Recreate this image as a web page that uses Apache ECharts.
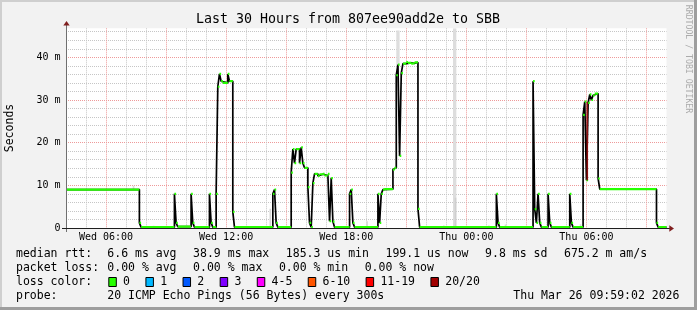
<!DOCTYPE html>
<html><head><meta charset="utf-8">
<script src="https://cdn.jsdelivr.net/npm/echarts@6/dist/echarts.min.js"></script>
<style>html,body{margin:0;padding:0;background:#f2f2f2;}#c{width:697px;height:310px;}</style>
</head><body><div id="c"></div>
<script>
// ---- DATA (time in minutes after Wed 04:00, window = 30 h) ----
const windowEndMin = 1800;
const stepStartMin = [
  0, 220, 225,
  325, 330, 335,
  375, 380, 385,
  430, 435, 440,
  450, 455, 460, 465, 470, 485, 490, 500, 505,
  620, 625, 630, 635,
  675, 680, 685, 690, 700, 705, 710, 715, 725, 730, 735,
  740, 745, 755, 760, 770, 775, 785, 790, 795, 800, 805,
  850, 855, 860, 865,
  935, 940, 945, 950, 955, 980, 985, 990, 995, 1000, 1005, 1010, 1020, 1025, 1035, 1040, 1045, 1055, 1060,
  1290, 1295, 1300,
  1400, 1405, 1410, 1415, 1420, 1425,
  1445, 1450, 1455,
  1510, 1515, 1520,
  1550, 1555, 1560, 1565, 1570, 1575, 1580, 1585, 1595, 1600, 1770, 1775
];
const medianRttMs = [
  9.0, 1.2, 0.2,
  8.0, 1.2, 0.3,
  8.0, 1.2, 0.2,
  8.0, 1.2, 0.2,
  8.0, 33.1, 36.1, 34.4, 34.0, 36.1, 34.4, 3.8, 0.2,
  8.0, 9.0, 1.2, 0.2,
  13.0, 18.5, 15.2, 18.5, 15.2, 18.9, 15.2, 14.1, 9.6, 1.2, 0.2,
  10.5, 12.7, 12.2, 12.6, 12.7, 12.3, 12.7, 1.6, 11.7, 1.5, 0.2,
  8.0, 9.0, 1.2, 0.2,
  8.0, 1.2, 8.0, 9.0, 9.1, 13.7, 14.1, 35.8, 38.3, 16.9, 36.3, 38.5, 38.9, 38.7, 38.5, 38.6, 38.8, 4.5, 0.2,
  8.0, 1.2, 0.2,
  34.4, 4.4, 1.2, 8.0, 1.2, 0.2,
  8.0, 1.2, 0.2,
  8.0, 1.2, 0.2,
  26.5, 29.6, 11.2, 29.3, 31.3, 30.0, 31.1, 31.5, 11.6, 9.1, 1.2, 0.2
];
// smoke (ping spread)
const smokeStartMin = [200, 260, 610, 900, 990, 1100, 1130, 1160, 1165, 1265, 1315, 1540];
const smokeEndMin   = [205, 265, 615, 905, 1000, 1105, 1135, 1170, 1170, 1270, 1320, 1545];
const smokeLowMs    = [9.0, 0, 0, 0, 38.0, 0, 0, 0, 0, 0, 0, 0];
const smokeHighMs   = [9.9, 0.5, 4.5, 1.6, 46.3, 0.4, 0.6, 46.8, 7.1, 0.6, 0.8, 0.9];
const smokeShade    = ['#dadada','#dadada','#d6d6d6','#dadada','#dedede','#dadada','#dadada','#dddddd','#cfcfcf','#dadada','#dadada','#dadada'];
// 20/20 loss marker
const loss20Min = [1562.5];
const loss20LowMs = [11.2];
const loss20HighMs = [29.6];
// axis labels
const xLabelMin = [120, 480, 840, 1200, 1560];
const xLabelText = ['Wed 06:00', 'Wed 12:00', 'Wed 18:00', 'Thu 00:00', 'Thu 06:00'];
const yLabelMs = [0, 10, 20, 30, 40];
const yLabelText = ['0', '10 m', '20 m', '30 m', '40 m'];
// legend
const lossBuckets = ['0', '1', '2', '3', '4-5', '6-10', '11-19', '20/20'];
const lossColors = ['#26ff00', '#00b8ff', '#0059ff', '#7e00ff', '#ff00ff', '#ff5500', '#ff0000', '#a10000'];
const rttStats = ['6.6 ms avg', '38.9 ms max', '185.3 us min', '199.1 us now', '9.8 ms sd', '675.2 m am/s'];
const lossStats = ['0.00 % avg', '0.00 % max', '0.00 % min', '0.00 % now'];
const probeText = '20 ICMP Echo Pings (56 Bytes) every 300s';
const stampText = 'Thu Mar 26 09:59:02 2026';
const titleText = 'Last 30 Hours from 807ee90add2e to SBB';

// ---- build series data ----
const stepLine = [];
const greenSegs = [];
for (let i = 0; i < stepStartMin.length; i++) {
  const s = stepStartMin[i];
  const e = i + 1 < stepStartMin.length ? stepStartMin[i + 1] : windowEndMin;
  stepLine.push([s, medianRttMs[i]]);
  greenSegs.push([s, medianRttMs[i]], [e, medianRttMs[i]], [e, '-']);
}
stepLine.push([windowEndMin, medianRttMs[medianRttMs.length - 1]]);
const smokeData = smokeStartMin.map((s, i) => [s, smokeEndMin[i], smokeLowMs[i], smokeHighMs[i]]);
const lossLine = [];
loss20Min.forEach((t, i) => { lossLine.push([t, loss20LowMs[i]], [t, loss20HighMs[i]], [t, '-']); });

const MONO = 'DejaVu Sans Mono';
const G = [];
function txt(text, x, y, size, extra) {
  const o = { type: 'text', z: 50, style: Object.assign({ text: text, x: x, y: y, font: size + 'px "' + MONO + '"', fill: '#000',
    textAlign: 'left', textVerticalAlign: 'middle', align: 'left', verticalAlign: 'middle' }, extra || {}) };
  G.push(o); return o;
}
// frame shading
G.push({ type: 'rect', z: 60, shape: { x: 0, y: 0, width: 697, height: 2 }, style: { fill: '#cfcfcf' } });
G.push({ type: 'rect', z: 60, shape: { x: 0, y: 0, width: 2, height: 310 }, style: { fill: '#cfcfcf' } });
G.push({ type: 'rect', z: 61, shape: { x: 0, y: 307, width: 697, height: 3 }, style: { fill: '#9e9e9e' } });
G.push({ type: 'rect', z: 61, shape: { x: 694, y: 0, width: 3, height: 310 }, style: { fill: '#9e9e9e' } });
// title
txt(titleText, 348, 19.5, 13.3, { textAlign: 'center', align: 'center' });
// y name
G.push({ type: 'text', z: 50, x: 10.5, y: 128, rotation: Math.PI / 2,
  style: { text: 'Seconds', x: 0, y: 0, font: '11.5px "' + MONO + '"', fill: '#000', textAlign: 'center', align: 'center', textVerticalAlign: 'middle', verticalAlign: 'middle' } });
// watermark
G.push({ type: 'text', z: 50, x: 688, y: 59, rotation: -Math.PI / 2,
  style: { text: 'RRDTOOL / TOBI OETIKER', x: 0, y: 0, font: '8.2px "' + MONO + '"', fill: '#ababab', textAlign: 'center', align: 'center', textVerticalAlign: 'middle', verticalAlign: 'middle' } });
// axis lines + arrows
G.push({ type: 'line', z: 40, shape: { x1: 66.5, y1: 23, x2: 66.5, y2: 232 }, style: { stroke: '#707070', lineWidth: 1 } });
G.push({ type: 'line', z: 40, shape: { x1: 62, y1: 228.5, x2: 670, y2: 228.5 }, style: { stroke: '#1f1f1f', lineWidth: 1 } });
G.push({ type: 'polygon', z: 41, shape: { points: [[63.3, 25.5], [69.7, 25.5], [66.5, 21]] }, style: { fill: '#801f1f' } });
G.push({ type: 'polygon', z: 41, shape: { points: [[669.3, 225.3], [669.3, 231.7], [674, 228.5]] }, style: { fill: '#801f1f' } });
// legend rows
const CW = 6.92, GAP = 16.6;
txt('median rtt:', 16, 254.3, 11.5);
let lx = 107.3;
rttStats.forEach(s => { txt(s, lx, 254.3, 11.5); lx += s.length * CW + GAP; });
txt('packet loss:', 16, 268.3, 11.5);
lx = 107.3;
lossStats.forEach(s => { txt(s, lx, 268.3, 11.5); lx += s.length * CW + GAP; });
txt('loss color:', 16, 282.3, 11.5);
lx = 108.3;
lossBuckets.forEach((b, i) => {
  G.push({ type: 'rect', z: 50, shape: { x: lx + 0.5, y: 277.5, width: 7.5, height: 9 }, style: { fill: lossColors[i], stroke: '#000', lineWidth: 1 } });
  txt(b, lx + 14.8, 282.3, 11.5);
  lx += 14.8 + b.length * CW + 15.4;
});
txt('probe:', 16, 296.3, 11.5);
txt(probeText, 107.3, 296.3, 11.5);
txt(stampText, 513.3, 296.3, 11.5);

const GRAY = '#c6c6c6', RED = '#ee9a9a';
const chart = echarts.init(document.getElementById('c'), null, { renderer: 'canvas', width: 697, height: 310 });
chart.setOption({
  animation: false,
  backgroundColor: '#f2f2f2',
  grid: { left: 66, right: 30.5, top: 28.3, bottom: 82, show: true, backgroundColor: '#ffffff', borderWidth: 0 },
  xAxis: {
    type: 'value', min: 0, max: windowEndMin, interval: 60,
    axisLine: { show: false }, axisTick: { show: false },
    axisLabel: { interval: 0, margin: 4, fontFamily: MONO, fontSize: 10, color: '#000', showMinLabel: true, showMaxLabel: true,
      formatter: v => { const i = xLabelMin.indexOf(Math.round(v)); return i >= 0 ? xLabelText[i] : ''; } },
    splitLine: { show: true, showMinLine: true, showMaxLine: false, lineStyle: { color: [GRAY, GRAY, RED], width: 1, type: [1, 1] } }
  },
  yAxis: {
    type: 'value', min: 0, max: 46.8, interval: 2,
    axisLine: { show: false }, axisTick: { show: false },
    axisLabel: { interval: 0, margin: 5.5, fontFamily: MONO, fontSize: 10, color: '#000', showMinLabel: true, showMaxLabel: false,
      formatter: v => { const i = yLabelMs.findIndex(m => Math.abs(m - v) < 1e-6); return i >= 0 ? yLabelText[i] : ''; } },
    splitLine: { show: true, showMinLine: true, showMaxLine: false, lineStyle: { color: [RED, GRAY, GRAY, GRAY, GRAY], width: 1, type: [1, 1] } }
  },
  series: [
    {
      type: 'custom', z: 1, silent: true, clip: true, data: smokeData,
      encode: { x: [0, 1], y: [2, 3] },
      renderItem: (params, api) => {
        const p0 = api.coord([api.value(0), api.value(3)]);
        const p1 = api.coord([api.value(1), api.value(2)]);
        return { type: 'rect', shape: { x: p0[0], y: p0[1], width: p1[0] - p0[0], height: p1[1] - p0[1] },
          style: { fill: smokeShade[params.dataIndex] } };
      }
    },
    { type: 'line', z: 2, silent: true, step: 'end', symbol: 'none', data: stepLine,
      lineStyle: { color: '#000000', width: 1.7 } },
    { type: 'line', z: 3, silent: true, symbol: 'none', connectNulls: false, data: greenSegs,
      lineStyle: { color: lossColors[0], width: 2.2 } },
    { type: 'line', z: 4, silent: true, symbol: 'none', connectNulls: false, data: lossLine,
      lineStyle: { color: '#8a0e0e', width: 1.6 } }
  ],
  graphic: { elements: G }
});
</script>
</body></html>
